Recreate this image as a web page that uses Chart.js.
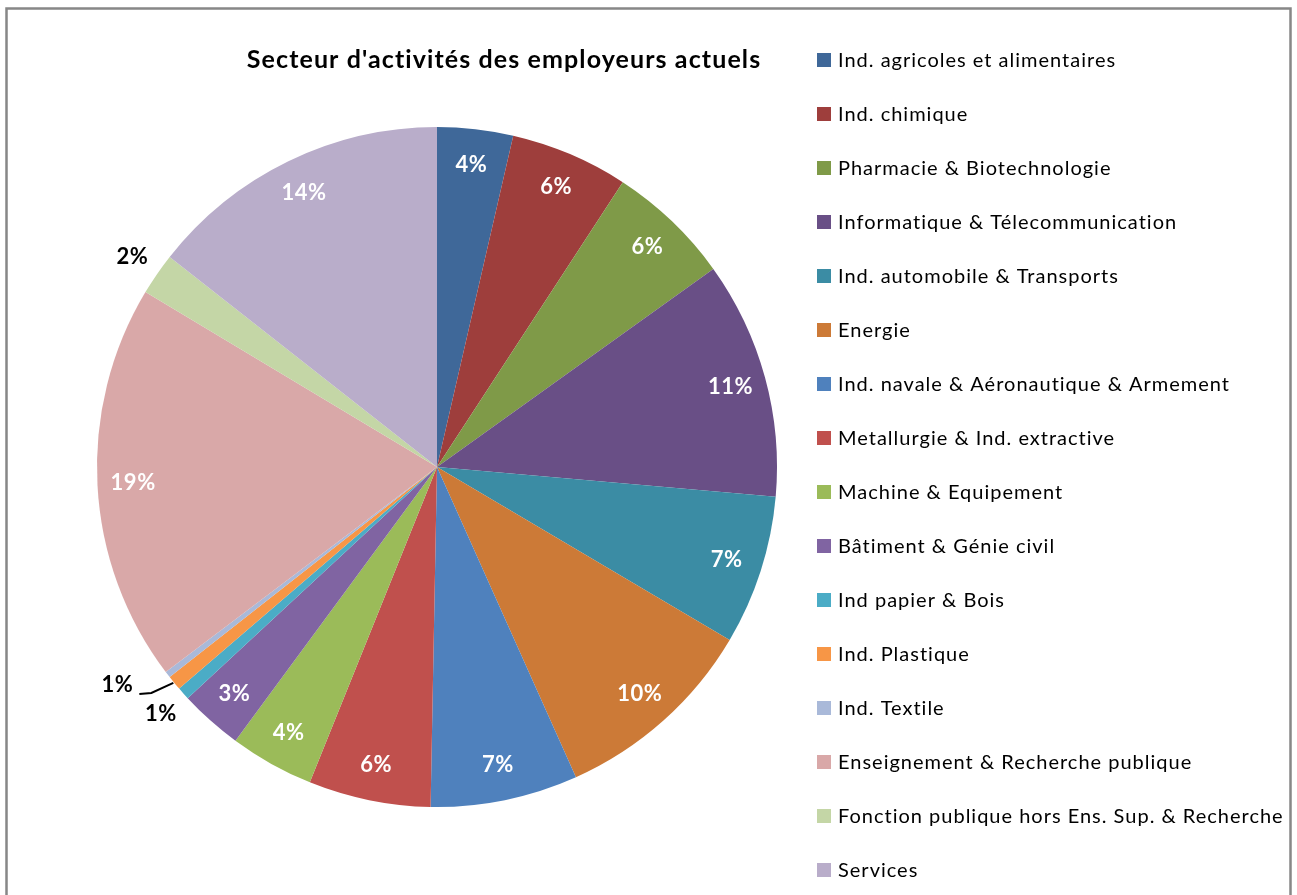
<!DOCTYPE html>
<html>
<head>
<meta charset="utf-8">
<script src="https://cdn.jsdelivr.net/npm/chart.js@4.4.0/dist/chart.umd.min.js"></script>
<style>
    body { margin: 0; background: #ffffff; }
    #wrap { width: 1297px; height: 895px; }
</style>
</head>
<body>
<div id="wrap"><canvas id="sectorChart" width="1297" height="895"></canvas></div>
<script>
const chartTitle = "Secteur d'activités des employeurs actuels";

const sectors = [
    "Ind. agricoles et alimentaires",
    "Ind. chimique",
    "Pharmacie & Biotechnologie",
    "Informatique & Télecommunication",
    "Ind. automobile & Transports",
    "Energie",
    "Ind. navale & Aéronautique & Armement",
    "Metallurgie & Ind. extractive",
    "Machine & Equipement",
    "Bâtiment & Génie civil",
    "Ind papier & Bois",
    "Ind. Plastique",
    "Ind. Textile",
    "Enseignement & Recherche publique",
    "Fonction publique hors Ens. Sup. & Recherche",
    "Services"
];

// share of employers, in percent
const shares = [3.6, 5.6, 5.9, 11.3, 7.1, 9.8, 7.0, 5.8, 4.0, 3.0, 0.6, 0.7, 0.3, 18.9, 2.0, 14.4];

const sliceColors = [
    "#3f6899", "#9e3e3c", "#7f9a48", "#694f86", "#3b8ca4", "#cc7a37",
    "#4f81bd", "#c0504d", "#9bbb59", "#8064a2", "#4bacc6", "#f79646",
    "#a9b9d9", "#d9a8a8", "#c4d6a6", "#b9adca"
];

const FONT = "Lato, 'Open Sans', sans-serif";

// frame, title and legend drawn on the canvas
const decorPlugin = {
    id: "decor",
    beforeDraw(chart) {
        const ctx = chart.ctx;
        ctx.save();
        ctx.fillStyle = "#ffffff";
        ctx.fillRect(0, 0, chart.width, chart.height);
        ctx.strokeStyle = "#878787";
        ctx.lineWidth = 2.5;
        ctx.strokeRect(6.5, 8.5, 1284, 900);
        ctx.restore();
    },
    afterDraw(chart) {
        const ctx = chart.ctx;
        ctx.save();
        ctx.fillStyle = "#000000";
        ctx.textBaseline = "middle";
        ctx.font = "bold 25px " + FONT;
        ctx.letterSpacing = "1.1px";
        ctx.textAlign = "center";
        ctx.fillText(chartTitle, 504, 60);

        ctx.textAlign = "left";
        ctx.font = "20px " + FONT;
        ctx.letterSpacing = "1px";
        const labels = chart.data.labels;
        const colors = chart.data.datasets[0].backgroundColor;
        labels.forEach((lab, i) => {
            const y = 60 + i * 54.0;
            ctx.fillStyle = colors[i];
            ctx.fillRect(817, y - 7, 14, 14);
            ctx.fillStyle = "#000000";
            ctx.fillText(lab, 838, y + 1);
        });
        ctx.restore();
    }
};

// percentage labels placed from the arcs
const pctLabelPlugin = {
    id: "pctLabels",
    afterDatasetsDraw(chart) {
        const ctx = chart.ctx;
        const meta = chart.getDatasetMeta(0);
        const data = chart.data.datasets[0].data;
        const total = data.reduce((a, b) => a + b, 0);
        let lastOutside = null;
        ctx.save();
        ctx.textAlign = "center";
        ctx.textBaseline = "middle";
        ctx.letterSpacing = "0.5px";
        meta.data.forEach((arc, i) => {
            const pct = Math.round(data[i] / total * 100);
            if (pct === 0) return;
            const p = arc.getProps(["x", "y", "startAngle", "endAngle", "outerRadius"], true);
            const mid = (p.startAngle + p.endAngle) / 2;
            const cos = Math.cos(mid), sin = Math.sin(mid);
            const txt = pct + "%";
            ctx.font = "bold 22px " + FONT;
            if (data[i] / total >= 0.025) {
                const r = p.outerRadius * 0.895;
                ctx.fillStyle = "#ffffff";
                ctx.fillText(txt, p.x + cos * r, p.y + sin * r);
                return;
            }
            ctx.fillStyle = "#000000";
            let lx = p.x + cos * (p.outerRadius + 30);
            let ly = p.y + sin * (p.outerRadius + 30);
            if (lastOutside && Math.hypot(lx - lastOutside.x, ly - lastOutside.y) < 32) {
                // crowded: push the label aside and tie it back with a leader line
                const ex = p.x + cos * p.outerRadius;
                const ey = p.y + sin * p.outerRadius;
                lx = ex - 57;
                ly = ey + 2;
                ctx.strokeStyle = "#000000";
                ctx.lineWidth = 2;
                ctx.beginPath();
                ctx.moveTo(ex - 1, ey);
                ctx.lineTo(ex - 23, ey + 10);
                ctx.lineTo(ex - 35, ey + 11);
                ctx.stroke();
            }
            ctx.fillText(txt, lx, ly);
            lastOutside = { x: lx, y: ly };
        });
        ctx.restore();
    }
};

new Chart(document.getElementById("sectorChart"), {
    type: "pie",
    data: {
        labels: sectors,
        datasets: [{
            data: shares,
            backgroundColor: sliceColors,
            borderWidth: 0,
            hoverOffset: 0
        }]
    },
    options: {
        responsive: false,
        animation: false,
        layout: { padding: { left: 97, right: 520, top: 127, bottom: 88 } },
        plugins: {
            legend: { display: false },
            tooltip: { enabled: false }
        }
    },
    plugins: [decorPlugin, pctLabelPlugin]
});
</script>
</body>
</html>
